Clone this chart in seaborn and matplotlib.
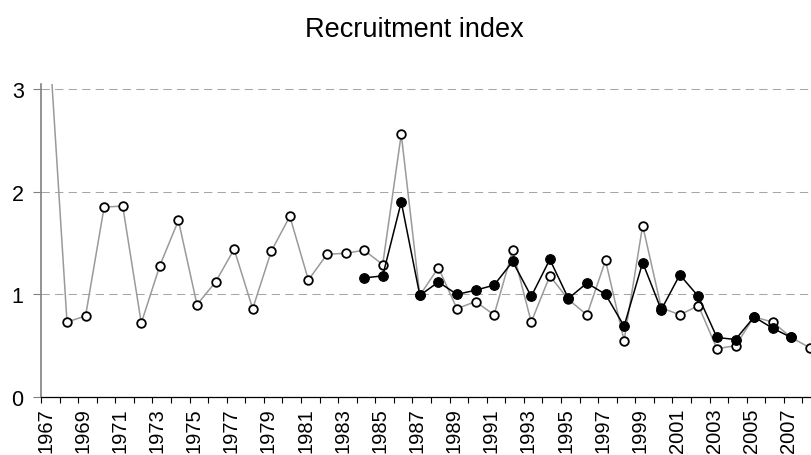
import numpy as np
import pandas as pd
import matplotlib
matplotlib.use('Agg')
import matplotlib.pyplot as plt
import seaborn as sns

# Recruitment index values
years = list(range(1967, 2009))
index_open = [3.6, 0.73, 0.79, 1.85, 1.86, 0.72, 1.28, 1.72, 0.90, 1.12,
              1.44, 0.86, 1.42, 1.76, 1.14, 1.39, 1.40, 1.43, 1.29, 2.56,
              0.99, 1.26, 0.86, 0.93, 0.80, 1.43, 0.73, 1.18, 0.95, 0.80,
              1.33, 0.55, 1.67, 0.87, 0.80, 0.89, 0.47, 0.50, 0.78, 0.73,
              0.58, 0.48]
years_filled = list(range(1984, 2008))
index_filled = [1.16, 1.18, 1.90, 0.99, 1.12, 1.00, 1.04, 1.09, 1.32, 0.98,
                1.34, 0.96, 1.11, 1.00, 0.69, 1.31, 0.85, 1.19, 0.98, 0.58,
                0.56, 0.78, 0.67, 0.58]
label_years = years[::2]
y_ticks = [0, 1, 2, 3]

sns.set_style('white')
plt.rcParams['font.family'] = ['Liberation Sans', 'DejaVu Sans']
plt.rcParams['text.color'] = 'black'
plt.rcParams['xtick.labelcolor'] = 'black'
plt.rcParams['ytick.labelcolor'] = 'black'

df_open = pd.DataFrame({'pos': [y - years[0] for y in years], 'value': index_open})
df_filled = pd.DataFrame({'pos': [y - years[0] for y in years_filled], 'value': index_filled})

fig = plt.figure(figsize=(8.11, 4.56), dpi=100)
# plot area runs past the right edge of the picture, like the reference
ax = fig.add_axes([41 / 811, 58 / 456, 42 * 18.57 / 811, 313.1 / 456])

for y in y_ticks[1:]:
    ax.axhline(y, color='#a6a6a6', lw=0.75, linestyle=(0, (8, 5)), zorder=1)

sns.lineplot(data=df_open, x='pos', y='value', ax=ax, color='#9a9a9a', lw=1.1,
             marker='o', markersize=6.2, markerfacecolor='white',
             markeredgecolor='black', markeredgewidth=1.3, zorder=3)
sns.lineplot(data=df_filled, x='pos', y='value', ax=ax, color='black', lw=1.1,
             marker='o', markersize=7, markerfacecolor='black',
             markeredgecolor='black', zorder=4)

ax.set_xlim(-0.4, 41.6)
ax.set_ylim(0, 3.05)
ax.set_xlabel('')
ax.set_ylabel('')

# tick marks between categories, labels under every other year
ax.set_xticks(np.arange(-0.4, 41.7, 1.0))
ax.set_xticklabels([])
ax.set_xticks([y - years[0] - 0.15 for y in label_years], minor=True)
ax.set_xticklabels([str(y) for y in label_years], minor=True, rotation=90,
                   fontsize=14.5)
ax.tick_params(axis='x', which='major', direction='out', length=4.5,
               width=0.8, color='black', bottom=True)
ax.tick_params(axis='x', which='minor', length=0, pad=7.5, bottom=True)

ax.set_yticks(y_ticks)
ax.set_yticklabels([str(v) for v in y_ticks], fontsize=15.5)
ax.tick_params(axis='y', direction='out', length=5.5, width=0.8,
               color='#808080', pad=7, left=True)

sns.despine(ax=ax, top=True, right=True)
ax.spines['left'].set_color('#808080')
ax.spines['left'].set_linewidth(1.2)
ax.spines['bottom'].set_color('black')
ax.spines['bottom'].set_linewidth(0.9)

fig.text(414 / 811, 1 - 37 / 456, 'Recruitment index', ha='center',
         va='baseline', fontsize=19.5)

fig.savefig('out.png', dpi=100)
